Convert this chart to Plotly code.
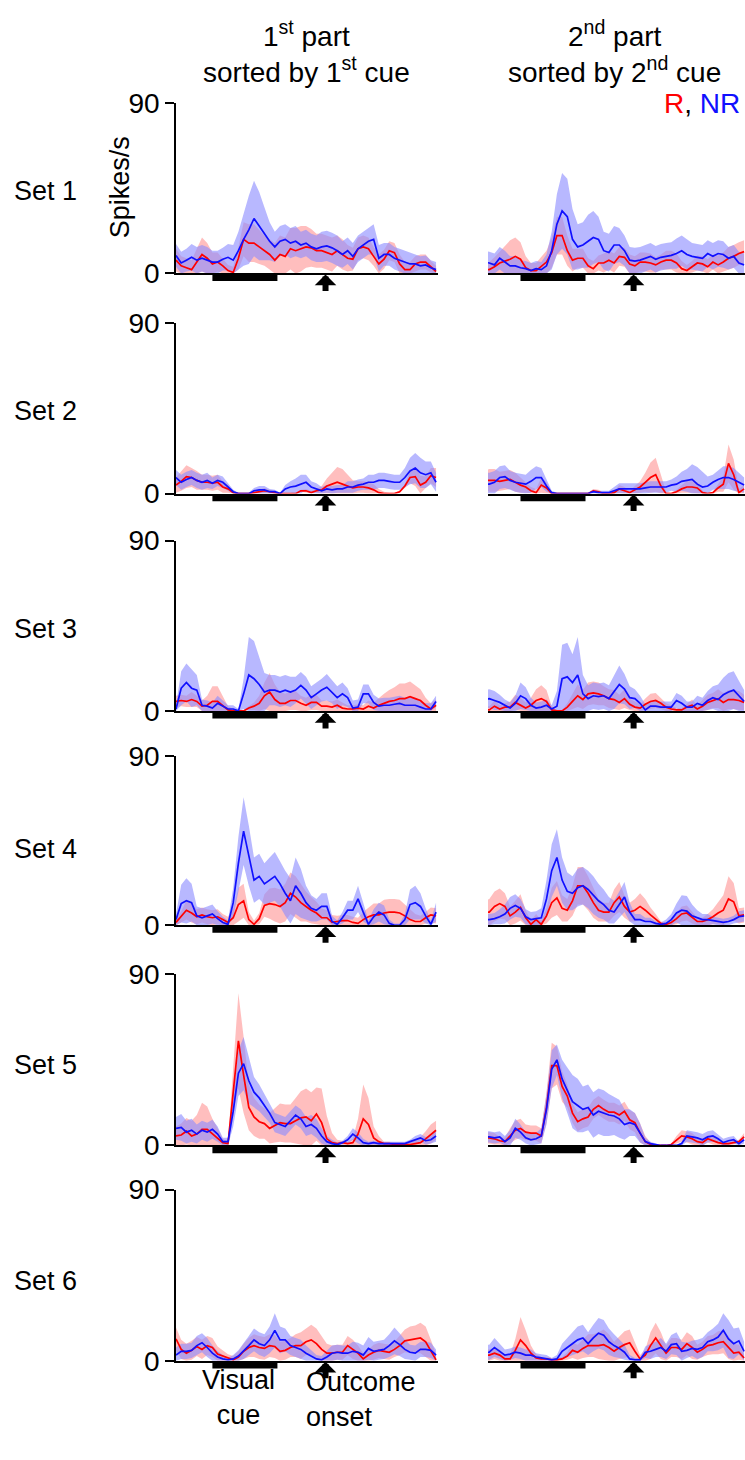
import plotly.graph_objects as go

# ---------------- data ----------------
# time axis (s) relative to visual cue onset
T = [-0.28, -0.24, -0.20, -0.16, -0.12, -0.08, -0.04, 0.00, 0.04, 0.08, 0.12,
     0.16, 0.20, 0.24, 0.28, 0.32, 0.36, 0.40, 0.44, 0.48, 0.52,
     0.56, 0.60, 0.64, 0.68, 0.72, 0.76, 0.80, 0.84, 0.88, 0.92, 0.96, 1.00,
     1.04, 1.08, 1.12, 1.16, 1.20, 1.24, 1.28, 1.32, 1.36, 1.40, 1.44, 1.48,
     1.52, 1.56, 1.60, 1.64, 1.68, 1.72]

CUE = [0.0, 0.5]          # visual cue period (s)
OUTCOME = [0.87]          # outcome onset (s)

SETS = ["Set 1", "Set 2", "Set 3", "Set 4", "Set 5", "Set 6"]
Y_TICKS = [0, 90]

# ---- Set 1 ----
L1_R = [7,4,3,2,6,10,8,5,6,4,1.5, 0.5,8,18,16,16,14,12,10,7,10,
        9,13,12,13,14,13.5,12,12,11,10,12,10,
        8,7.5,13,14,13,9,5,7.5,12,11,5,2,2,5,6,6,3.5,1]
L1_R_SEM = [6,5,5,5,7,9,8,6,5,4,3, 3,6,9,10,10,9,8,8,9,10,
            10,11,12,12,11,10,9,9,9,9,8,8,
            7,6,6,6,6,5,5,5,5,5,5,4,4,4,4,4,3,3]
L1_B = [9.5,5.5,7,8.5,7,8,7,6,6,7.5,8.5, 7,12,18,23,29,25,21,17,14,17,
        18,16,17,15,16,14,13,14,14.5,13.5,12,10,
        12,9,13,15,17,18,8,10,10,8,7,6,5,5,4,4.5,3,2]
L1_B_SEM = [6,6,6,7,7,7,7,6,6,6,7, 8,10,14,18,20,18,14,10,8,8,
            8,8,8,7,7,7,7,8,8,8,8,7,
            7,7,7,7,7,8,7,6,6,6,6,6,6,5,5,5,4,4]
R1_R = [2,2,3.5,5.5,6.5,7.5,9,7.5,3,1.5,1.5, 4,6,11,20,20,12,7,8,8,4,
        2.5,5.5,5.5,7,5.5,9,8.5,5,4,6,6,5.5,
        4.5,6,7,7,5.5,2.5,1.5,3.5,5.5,5,3.5,6,4.5,6,8,9,10.5,11.5]
R1_R_SEM = [3,4,5,6,8,10,10,9,6,4,4, 5,6,8,10,10,8,6,5,5,4,
            4,4,5,5,5,5,5,5,5,5,5,5,
            4,4,5,5,5,4,3,3,4,4,4,4,5,5,6,6,6,6]
R1_B = [6,5.5,4.5,8,6,4,4,3,2.5,1.5,2.5, 2,4,12,26,33,30,18,14,15,17,
        19,18,12,11,15,15,12,7,6.5,7,8,9,
        7.5,8.5,9,9.5,10.5,12,10,9,8.5,8,10.5,9,10.5,10,8,9,5.5,4.5]
R1_B_SEM = [6,6,6,6,6,5,5,4,4,4,4, 4,6,10,16,20,20,16,12,12,14,
            14,12,10,10,10,9,8,7,7,7,7,7,
            7,7,7,7,8,8,8,7,7,7,7,7,7,7,6,6,6,6]

# ---- Set 2 ----
L2_R = [4.5,6.5,9,8.5,7,6,6,5.5,6,3.5,2.5, 0.5,0,0,0,0.5,1,1.5,1,0.5,0,
        0,0,0,1.5,1.5,0.5,1.5,2,4,5,6,5,
        4,3,3.5,3.5,3,2,0.5,0,0,0,1,4,8.5,9,4.5,6,9.5,8.5]
L2_R_SEM = [4,5,6,5,5,4,4,4,4,3,2, 1,0.5,0.5,0.5,0.5,1,1.5,1,0.5,0,
            0,0,0,0.5,1,1,1,2,4,6,8,8,
            6,4,3,3,3,3,2,1,0.5,0.5,0.5,1,3,5,5,3,4,5]
L2_B = [8.5,6,7.5,8.5,7,6,7,5.5,7,6,3.5, 1,0,0,0,1.5,2,2,1,1,0,
        2.5,3.5,4,5,6,3.5,2.5,1.5,2.5,2,2.5,2.5,
        3.5,3.5,4.5,5,6,6,7,7,6.5,6,6,8.5,12,13.5,11,10,11,6]
L2_B_SEM = [4,4,4,4,4,4,4,3,3,3,2, 1,0.5,0.5,0.5,1.5,2,2,1.5,1,0.5,
            2,3,4,5,4,3,3,2,2,2,2,2,
            3,3,3,3,4,4,4,4,4,4,4,5,7,8,8,7,6,5]
R2_R = [7,7,7,6.5,7,7.5,6,4.5,3.5,1.5,0.5, 4.5,3,0,0,0,0,0,0,0,0,
        1.5,1,0,0,0.5,2.5,1.5,0.5,2,3.5,6,8.5,
        10,4,0,0,1,2.5,3.5,3.5,3,0.5,0,0.5,3,5,16,10,0.5,2.5]
R2_R_SEM = [5,6,6,5,5,5,5,4,3,2,2, 4,3,1,0.5,0.5,0.5,0.5,0.5,0.5,0.5,
            1,1,0.5,0.5,0.5,2,2,1,2,3,5,8,
            9,6,1,0.5,1,2,3,3,3,1,0.5,0.5,2,4,10,8,2,2]
R2_B = [5,5,6,8.5,9,7,6,5.5,5,6.5,8.5, 8.5,4,0.5,0,0,0,0,0,0,0,
        1,0.5,0.5,0.5,1.5,2.5,2.5,2.5,2.5,2.5,3,3.5,
        3.5,3.5,3.5,4.5,5,6.5,7,7.5,5,3.5,4,6,7.5,8.5,8.5,7.5,6,4.5]
R2_B_SEM = [6,6,6,6,6,5,5,5,5,6,6, 5,3,1,0.5,0.5,0.5,0.5,0.5,0.5,0.5,
            1,1,1,1,2,3,3,3,3,3,3,3,
            3,3,3,3,4,5,6,8,9,8,5,4,5,6,6,6,5,4]

# ---- Set 3 ----
L3_R = [5,5.5,5,6,5,2.5,3,5,5,2.5,0.5, 0,0,0,1.5,2.5,4,8,10,6,4,
        4,5.5,5.5,4,3,4.5,4.5,2.5,2.5,2,3,1.5,
        1,1,1.5,1,2.5,1.5,3,4,5,5.5,6.5,6.5,7.5,6.5,5.5,3,1,3]
L3_R_SEM = [3,3,3,4,3,3,5,8,8,5,2, 1,0.5,0.5,1,2,4,7,10,8,6,
            5,5,5,4,4,4,4,3,3,3,3,3,
            2,2,2,2,3,3,4,5,6,7,8,8,8,7,6,4,3,3]
L3_B = [1,12,15,12,11,3,2.5,1.5,4,2.5,1, 1,0,9,19,17,14,10,11,11,10,
        11,10,11,13.5,11,7,9,11,12.5,10,7,9,
        7,1.5,2,9,9,4.5,2.5,3,3,3.5,4,3,3,3,2,1,1,5]
L3_B_SEM = [2,9,10,10,8,3,3,3,4,3,2, 2,1,8,20,20,14,10,8,8,8,
            8,8,7,7,7,6,6,6,7,6,6,6,
            5,4,4,5,5,4,4,4,4,4,4,4,4,4,3,3,3,3]
R3_R = [0.5,0.5,2.5,1,2,2,4.5,3,1.5,3,5.5, 6.5,5,0.5,0,0,2,5,8,6,9,
        9.5,9,8,6.5,6,4.5,6.5,3.5,2,1.5,3.5,5,
        5.5,4,2,1,0.5,0.5,2,3,1,2.5,4.5,5.5,6.5,4.5,6,6,5.5,4.5]
R3_R_SEM = [2,2,3,2,2,3,4,4,3,4,6, 7,6,2,0.5,0.5,2,4,6,5,6,
            6,6,5,5,5,4,5,3,3,2,3,4,
            4,3,2,2,1,1,2,3,2,3,4,4,5,5,5,5,5,4]
R3_B = [6,6.5,5.5,4.5,3,1.5,4,8,6.5,3,1.5, 2,3,1,2.5,17,18,15,19,9,6.5,
        8,7.5,8,6.5,10,14,11.5,7,6.5,4,0.5,2.5,
        2.5,2,2,2,5.5,4,2,2,4,3,5.5,7,6,8.5,10,11,8,5]
R3_B_SEM = [5,5,5,4,3,3,4,7,6,4,3, 3,3,2,8,18,18,15,20,10,7,
            7,7,7,7,9,10,8,6,5,4,3,3,
            3,3,3,3,4,4,3,3,4,4,5,6,8,9,10,10,8,6]

# ---- Set 4 ----
L4_R = [1.5,4.5,8,6.5,4.5,5.5,4.5,4,4.5,3,1.5, 4,11,13,3,0.5,3.5,10.5,11.5,11,10,
        12,17,15,12,10,8,6.5,4,4,1.5,2,2.5,
        2.5,1.5,1,3,4.5,5.5,5.5,6.5,7,7,6.5,5,3,2,2,4,5.5,5]
L4_R_SEM = [2,3,5,5,4,4,4,4,4,3,3, 5,9,9,4,2,3,6,8,9,9,
            10,11,11,10,8,7,6,5,4,4,3,3,
            3,3,3,4,5,6,6,7,7,7,7,6,5,4,3,3,4,4]
L4_B = [3,11.5,13,12,5,4,5,6,3.5,1.5,0.5, 12,33,50,37,24,26,22,24,26,22,
        17,13,21,17,12,9,8,10,10,2,0.5,4,
        8,8,14,7,0.5,4.5,7,5.5,1,0,0,3,11,12,10,5,0.5,7]
L4_B_SEM = [3,10,12,10,5,5,5,5,4,3,2, 8,14,18,16,12,12,11,12,13,12,
            12,12,15,13,9,7,6,7,7,3,2,3,
            5,5,7,5,2,4,5,5,2,1,1,3,8,9,7,4,2,5]
R4_R = [7,7,10,11.5,10,5,7,9.5,4,0.5,3, 0.5,5,12,14.5,9,8,13,21,21,17,
        12,8,7,7,12,15,10,7,8,10,8,5.5,
        3,1,0.5,1.5,3.5,6,6.5,4,2,2,3,4.5,6.5,8,14,12.5,5,5.5]
R4_R_SEM = [6,7,8,8,7,5,6,7,4,2,3, 2,4,8,9,7,6,8,10,10,9,
            8,6,5,5,7,8,6,5,6,7,6,4,
            3,1,1,2,3,4,4,3,2,2,3,4,6,8,12,10,4,4]
R4_B = [3,3,3.5,4.5,6,9,10.5,9,4.5,3,3.5, 4,14,29,36,24,18,17,20,21,19,
        16,13,11,8,7,11,15,7,3,3,2,2,
        1,0.5,1,3,6.5,8,7.5,5,4,3,3,2.5,2,1.5,2,3,4.5,5]
R4_B_SEM = [3,3,3,4,5,6,6,5,4,4,4, 5,10,14,15,12,10,9,10,10,10,
            10,9,8,7,6,7,8,5,3,3,2,2,
            1,1,2,3,5,8,8,6,4,3,3,2,2,2,2,2,3,3]

# ---- Set 5 ----
L5_R = [5,5.5,7.5,5,6,8.5,8.5,6,4,1.5,1, 30,55,37,20,15,12.5,11.5,9,10.5,12,
        11.5,11.5,13,14.5,15,13,16.5,12,3.5,1.5,1,1.5,
        1,1.5,6,14,11,4,2,1,1,0.5,0.5,0.5,0.5,1,1.5,3.5,6,8]
L5_R_SEM = [5,6,7,8,10,14,12,8,5,2,1, 12,25,20,12,10,9,8,8,9,10,
            10,10,12,14,15,15,14,18,12,5,2,1,
            1,2,8,18,14,6,3,1,1,1,1,1,1,2,3,4,5,5]
L5_B = [9,9.5,7,8,6,8,7,8.5,6,2,2, 18,38,43,34,28,25,21,17,12,11,
        10,13,16,14,10,11,9,5,2,1,0.5,1.5,
        3,6,4,1.5,1,1.5,1,1,1,1,1,1,2,3,4,2.5,3,5]
L5_B_SEM = [6,7,6,6,5,5,5,5,4,2,2, 8,12,14,12,8,7,6,5,5,5,
            5,5,5,5,5,5,5,4,3,2,1,1,
            2,3,3,2,1,1,1,1,1,1,1,1,1,2,2,2,2,3]
R5_R = [4,4,3.5,2.5,2,5,8,9,7,6.5,6.5, 5,20,42,42,31,26,17,12.5,14,15,
        19,21,19,17.5,17.5,16,18,13.5,12,6.5,2,0.5,
        0,0,0,0.5,3,5,4.5,3.5,2,1.5,3.5,2.5,1.5,1,1,1.5,2,4.5]
R5_R_SEM = [3,3,3,2,2,4,5,5,4,4,4, 4,8,12,10,8,6,5,5,5,5,
            5,5,5,5,5,5,5,5,5,5,3,1,
            0,0,0,0.5,2,3,3,3,2,2,2,2,2,1,1,1,1,2]
R5_B = [4.5,4.5,4,4.5,2,4,9,7,4,3,3.5, 5,19,40,45,35,29,23,21,19,20,
        16,18,17,16,15.5,14,11,12,11,6.5,2,1,
        0.5,0,0,0,0,1,5,4.5,4,3,4.5,5,3.5,1.5,2.5,3,1,3]
R5_B_SEM = [3,3,3,3,3,4,5,4,3,3,3, 4,8,10,8,10,12,14,14,12,12,
            12,12,12,11,10,10,8,7,6,5,2,1,
            0.5,0,0,0,0,1,3,3,3,3,3,3,2,2,2,2,1,2]

# ---- Set 6 ----
L6_R = [11.5,6,4,5.5,7.5,6,8,7,3.5,2.5,1.5, 0.5,2,5,7,8,7,6.5,8,7.5,5,
        5.5,7,8,8,10,11,9,6,4,4,4.5,4.5,
        8,6,4,1,3,4.5,5.5,5,4.5,6,8,10.5,11,11.5,12,10,5,0.5]
L6_R_SEM = [6,5,5,5,5,5,5,5,4,3,2, 2,3,4,5,6,6,6,6,6,5,
            5,5,6,7,7,8,8,7,5,4,4,4,
            5,5,4,3,3,4,4,4,4,4,5,6,7,7,8,8,6,3]
L6_B = [3,5,5,5.5,8,9.5,7,4,2,1,0.5, 1,2.5,5,8,11,9,8,11,16,11,
        11,8,7,6,4,2.5,1,0.5,2,4,4.5,4,
        4,5,4.5,3,6.5,5,5.5,6,8,10.5,8.5,6,4.5,4,6,6,5.5,3]
L6_B_SEM = [4,4,4,4,5,5,5,4,3,2,1, 2,3,4,5,6,6,6,7,9,7,
            6,5,5,5,4,3,2,2,3,4,4,4,
            4,5,5,5,6,5,5,5,6,7,6,5,4,4,4,4,4,3]
R6_R = [3,3,4,3,1,1,5.5,11,8,4,1.5, 1,1,0.5,0.5,1,2.5,5.5,4.5,6.5,8,
        8,8,8.5,7,5,7,8.5,9.5,5,1,3,8,
        12,8,4,7,7,6,9,7,4.5,6,8,8.5,9.5,10,7,4,4.5,1.5]
R6_R_SEM = [3,3,3,3,2,2,6,12,8,4,2, 1,1,1,1,1,2,4,4,5,6,
            6,7,8,7,5,6,7,7,5,2,3,7,
            8,7,4,5,5,5,6,6,4,4,5,5,6,6,6,5,4,2]
R6_B = [4.5,4.5,7,5,3,3.5,4.5,4,3,3,2, 1.5,1,0.5,1,5,7,9,11,12,9,
        12,14.5,13.5,10,8,6.5,4.5,1,0.5,0.5,4.5,5,
        6,7,5,8.5,9,5,5.5,6.5,6,7,10,11,12.5,16,11.5,9,10.5,5]
R6_B_SEM = [4,4,5,4,3,3,3,3,3,3,2, 2,2,1,2,4,5,6,7,7,6,
            7,8,8,7,6,5,4,2,1,1,3,4,
            4,5,4,5,6,5,4,4,5,5,5,6,7,9,10,8,7,5]

# panels[row][col] = (R mean, R sem, NR mean, NR sem)
PANELS = [
    [(L1_R, L1_R_SEM, L1_B, L1_B_SEM), (R1_R, R1_R_SEM, R1_B, R1_B_SEM)],
    [(L2_R, L2_R_SEM, L2_B, L2_B_SEM), (R2_R, R2_R_SEM, R2_B, R2_B_SEM)],
    [(L3_R, L3_R_SEM, L3_B, L3_B_SEM), (R3_R, R3_R_SEM, R3_B, R3_B_SEM)],
    [(L4_R, L4_R_SEM, L4_B, L4_B_SEM), (R4_R, R4_R_SEM, R4_B, R4_B_SEM)],
    [(L5_R, L5_R_SEM, L5_B, L5_B_SEM), (R5_R, R5_R_SEM, R5_B, R5_B_SEM)],
    [(L6_R, L6_R_SEM, L6_B, L6_B_SEM), (R6_R, R6_R_SEM, R6_B, R6_B_SEM)],
]
for r, row in enumerate(PANELS):
    for c, p in enumerate(row):
        for j, arr in enumerate(p):
            assert len(arr) == len(T), f"row {r} col {c} arr {j}: {len(arr)}"

# ---------------- styling / layout ----------------
W, H = 745, 1460
FONT = "Liberation Sans, Arial, Helvetica, sans-serif"
ROW_TOP = [90, 315, 537, 757, 980, 1200]     # pixel of y=90
ROW_ZERO = [264, 489, 711, 930, 1155, 1375]  # pixel of y=0
COL_X = [(176, 438), (488, 745)]
COL_RANGE = [(-0.28, 1.735), (-0.25, 1.727)]

RED_LINE, BLUE_LINE = "#ff0000", "#1010ff"
RED_FILL, BLUE_FILL = "rgba(255,150,150,0.62)", "rgba(140,140,255,0.62)"

fig = go.Figure()
layout = dict(width=W, height=H, autosize=False,
              margin=dict(l=0, r=0, t=0, b=0, pad=0),
              paper_bgcolor="white", plot_bgcolor="rgba(0,0,0,0)",
              showlegend=False, font=dict(family=FONT, color="black"))
shapes, annotations = [], []


def py(p):
    return 1 - p / H


for r in range(6):
    for c in range(2):
        k = r * 2 + c + 1
        xs = "" if k == 1 else str(k)
        xa, ya = "x" + xs, "y" + xs
        rm, rs, bm, bs = PANELS[r][c]
        for mean, sem, fc in ((rm, rs, RED_FILL), (bm, bs, BLUE_FILL)):
            up = [m + s for m, s in zip(mean, sem)]
            lo = [max(m - s, 0) for m, s in zip(mean, sem)]
            fig.add_trace(go.Scatter(x=T, y=up, xaxis=xa, yaxis=ya, mode="lines",
                                     line=dict(width=0), hoverinfo="skip"))
            fig.add_trace(go.Scatter(x=T, y=lo, xaxis=xa, yaxis=ya, mode="lines",
                                     line=dict(width=0), fill="tonexty",
                                     fillcolor=fc, hoverinfo="skip"))
        for mean, lc in ((rm, RED_LINE), (bm, BLUE_LINE)):
            fig.add_trace(go.Scatter(x=T, y=mean, xaxis=xa, yaxis=ya, mode="lines",
                                     line=dict(color=lc, width=1.7)))

        x0, x1 = COL_X[c]
        layout["xaxis" + xs] = dict(domain=[x0 / W, x1 / W], range=list(COL_RANGE[c]),
                                   anchor=ya, showline=True, linecolor="black",
                                   linewidth=1.6, ticks="", showticklabels=False,
                                   showgrid=False, zeroline=False)
        yd = dict(domain=[py(ROW_ZERO[r]), py(ROW_TOP[r])], range=[0, 90],
                  anchor=xa, showgrid=False, zeroline=False)
        if c == 0:
            yd.update(showline=True, linecolor="black", linewidth=1.6,
                      ticks="outside", ticklen=9, tickwidth=1.6, tickcolor="black",
                      tickvals=Y_TICKS, ticktext=[str(v) for v in Y_TICKS],
                      tickfont=dict(size=28, family=FONT, color="black"))
        else:
            yd.update(showline=False, ticks="", showticklabels=False)
        layout["yaxis" + xs] = yd

        # visual cue bar
        shapes.append(dict(type="rect", xref=xa, yref=ya + " domain",
                           x0=CUE[0], x1=CUE[1], y0=-0.045, y1=-0.007,
                           fillcolor="black", line=dict(width=0)))
        # outcome-onset arrow
        annotations.append(dict(x=OUTCOME[0], y=0, xref=xa, yref=ya, text="",
                                showarrow=True, ax=0, ay=19, arrowhead=1,
                                arrowsize=0.6, arrowwidth=6, arrowcolor="black",
                                standoff=1))

# text labels
TF = dict(family=FONT, size=27, color="black")
TT = dict(family=FONT, size=28, color="black")
annotations += [
    dict(x=306 / W, y=py(38), xref="paper", yref="paper", showarrow=False,
         text="1<sup>st</sup> part<br>sorted by 1<sup>st</sup> cue",
         font=TT, xanchor="center", yanchor="middle"),
    dict(x=614 / W, y=py(38), xref="paper", yref="paper", showarrow=False,
         text="2<sup>nd</sup> part<br>sorted by 2<sup>nd</sup> cue",
         font=TT, xanchor="center", yanchor="middle"),
    dict(x=742 / W, y=py(90), xref="paper", yref="paper", showarrow=False,
         text="<span style='color:#ff0000'>R</span>, <span style='color:#1010ff'>NR</span>",
         font=dict(family=FONT, size=28, color="black"), xanchor="right", yanchor="middle"),
    dict(x=120 / W, y=py(176), xref="paper", yref="paper", showarrow=False,
         text="Spikes/s", textangle=-90, font=TF, xanchor="center", yanchor="middle"),
    dict(x=238 / W, y=py(1413), xref="paper", yref="paper", showarrow=False,
         text="Visual<br>cue", font=TF, xanchor="center", yanchor="middle", align="center"),
    dict(x=304 / W, y=py(1415), xref="paper", yref="paper", showarrow=False,
         text="Outcome<br>onset", font=TF, xanchor="left", yanchor="middle", align="left"),
]
SET_Y = [180, 405, 627, 852, 1073, 1293]
for name, yy in zip(SETS, SET_Y):
    annotations.append(dict(x=12 / W, y=py(yy), xref="paper", yref="paper",
                            showarrow=False, text=name, font=TF,
                            xanchor="left", yanchor="middle"))

layout["shapes"] = shapes
layout["annotations"] = annotations
fig.update_layout(**layout)
fig.write_html("out.html",
               config={"responsive": False, "displayModeBar": False},
               post_script="document.body.style.margin='0px';"
                           "document.body.style.overflow='hidden';")
